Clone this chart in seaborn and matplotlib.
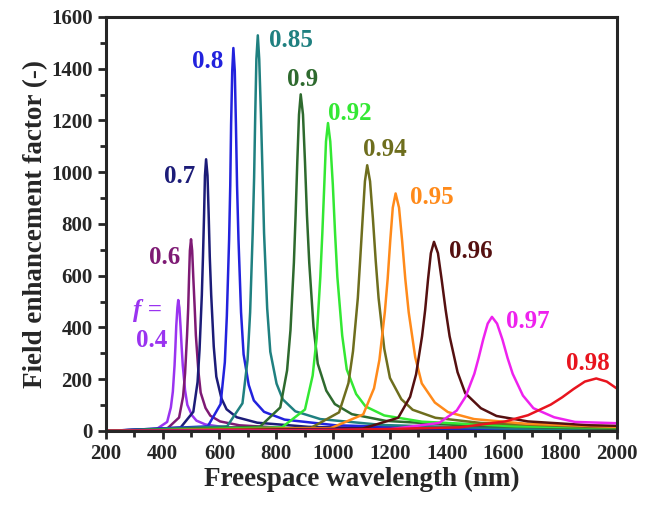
import matplotlib
matplotlib.use("Agg")
import matplotlib.pyplot as plt
import seaborn as sns
from matplotlib.ticker import MultipleLocator

# Curves: wavelength (nm) and field enhancement factor

wl_04 = [200, 377, 416, 429, 436, 442, 445, 448, 452, 455, 459, 463, 467, 471, 479, 487, 503, 519, 551, 615, 775, 1100, 2000]
fe_04 = [0, 6, 35, 91, 152, 253, 324, 405, 476, 506, 476, 405, 324, 253, 157, 101, 61, 40, 25, 15, 8, 4, 2]

wl_06 = [200, 416, 458, 472, 479, 486, 490, 493, 496, 500, 504, 508, 513, 517, 526, 534, 551, 568, 602, 670, 840, 1200, 2000]
fe_06 = [0, 9, 52, 133, 222, 370, 474, 593, 697, 741, 697, 593, 474, 370, 230, 148, 89, 59, 37, 22, 11, 5, 2]

wl_07 = [200, 463, 508, 523, 530, 538, 542, 546, 549, 553, 558, 562, 566, 571, 580, 589, 607, 625, 661, 733, 913, 1300, 2000]
fe_07 = [0, 13, 74, 189, 315, 525, 672, 840, 987, 1050, 987, 840, 672, 525, 326, 210, 126, 84, 53, 32, 16, 7, 3]

wl_08 = [200, 559, 604, 619, 626, 634, 638, 641, 645, 649, 654, 658, 662, 667, 676, 685, 703, 721, 757, 829, 1009, 1400, 2000]
fe_08 = [0, 18, 104, 266, 444, 740, 947, 1184, 1391, 1480, 1391, 1184, 947, 740, 459, 296, 178, 118, 74, 44, 22, 10, 4]

wl_085 = [200, 627, 681, 699, 708, 717, 722, 726, 730, 735, 740, 746, 752, 757, 768, 779, 801, 823, 867, 955, 1175, 1600, 2000]
fe_085 = [0, 18, 107, 275, 459, 765, 979, 1223, 1437, 1529, 1437, 1223, 979, 765, 474, 306, 183, 122, 76, 46, 23, 10, 5]

wl_09 = [200, 742, 814, 838, 850, 862, 868, 874, 880, 886, 894, 901, 908, 916, 931, 946, 976, 1006, 1066, 1186, 1486, 2000]
fe_09 = [0, 16, 91, 234, 390, 651, 833, 1041, 1223, 1301, 1223, 1041, 833, 651, 403, 260, 156, 104, 65, 39, 20, 8]

wl_092 = [200, 820, 901, 928, 942, 955, 962, 969, 975, 982, 990, 999, 1007, 1015, 1032, 1048, 1081, 1114, 1180, 1312, 1642, 2000]
fe_092 = [0, 14, 83, 214, 357, 595, 762, 952, 1119, 1190, 1119, 952, 762, 595, 369, 238, 143, 95, 60, 36, 18, 12]

wl_094 = [200, 922, 1021, 1054, 1070, 1087, 1095, 1104, 1112, 1120, 1130, 1140, 1150, 1160, 1180, 1200, 1240, 1280, 1360, 1520, 1920, 2000]
fe_094 = [0, 12, 72, 185, 308, 514, 657, 822, 965, 1027, 965, 822, 657, 514, 318, 205, 123, 82, 51, 31, 15, 14]

wl_095 = [200, 992, 1106, 1144, 1163, 1182, 1192, 1201, 1210, 1220, 1232, 1243, 1254, 1266, 1289, 1312, 1358, 1404, 1496, 1680, 2000]
fe_095 = [0, 11, 64, 165, 275, 459, 588, 734, 863, 918, 863, 734, 588, 459, 285, 184, 110, 73, 46, 28, 16]

wl_096 = [200, 1103, 1229, 1271, 1292, 1313, 1324, 1334, 1344, 1355, 1369, 1382, 1396, 1410, 1438, 1465, 1520, 1575, 1685, 1905, 2000]
fe_096 = [0, 9, 51, 132, 219, 366, 468, 585, 687, 731, 687, 585, 468, 366, 227, 146, 88, 58, 37, 22, 20]

wl_097 = [200, 1187, 1373, 1435, 1466, 1497, 1512, 1528, 1544, 1559, 1577, 1596, 1614, 1632, 1668, 1705, 1778, 1851, 2000]
fe_097 = [0, 5, 31, 79, 132, 221, 282, 353, 415, 441, 415, 353, 282, 221, 137, 88, 53, 35, 30]

wl_098 = [200, 966, 1446, 1606, 1686, 1766, 1806, 1846, 1886, 1926, 1963, 2000]
fe_098 = [0, 2, 14, 37, 61, 102, 130, 162, 191, 203, 191, 163]

f_labels = ["0.4", "0.6", "0.7", "0.8", "0.85", "0.9", "0.92", "0.94", "0.95", "0.96", "0.97", "0.98"]
colors = ["#9a33f0", "#7e1a74", "#1c1c78", "#2222dd", "#1f8080", "#2e6a2e",
          "#33e833", "#6e6e1e", "#ff8a1a", "#551010", "#ee22ee", "#e8141e"]

# label anchor (wavelength, value)
label_x = [362, 408, 461, 560, 850, 892, 1058, 1181, 1347, 1485, 1686, 1898]
label_y = [351, 672, 985, 1429, 1510, 1359, 1228, 1089, 903, 695, 425, 262]

curves = [(wl_04, fe_04), (wl_06, fe_06), (wl_07, fe_07), (wl_08, fe_08),
          (wl_085, fe_085), (wl_09, fe_09), (wl_092, fe_092), (wl_094, fe_094),
          (wl_095, fe_095), (wl_096, fe_096), (wl_097, fe_097), (wl_098, fe_098)]

sns.set_style("ticks")
plt.rcParams['font.family'] = ['Liberation Serif', 'DejaVu Serif']
plt.rcParams['font.weight'] = 'bold'

fig = plt.figure(figsize=(6.45, 5.08), dpi=100)
ax = fig.add_axes([0.164, 0.1516, 0.793, 0.815])

for (x, y), c in zip(curves, colors):
    sns.lineplot(x=x, y=y, color=c, lw=1.8, ax=ax)

for lab, lx, ly, c in zip(f_labels, label_x, label_y, colors):
    ax.text(lx, ly, lab, color=c, fontsize=18, fontweight='bold', ha='center', va='center')

ax.text(348, 467, "f =", color=colors[0], fontsize=18, fontweight='bold',
        fontstyle='italic', ha='center', va='center')

ax.set_xlim(200, 2000)
ax.set_ylim(0, 1600)
ax.xaxis.set_major_locator(MultipleLocator(200))
ax.xaxis.set_minor_locator(MultipleLocator(100))
ax.yaxis.set_major_locator(MultipleLocator(200))
ax.yaxis.set_minor_locator(MultipleLocator(100))
ax.tick_params(which='major', length=6, width=2, direction='out', labelsize=15)
ax.tick_params(which='minor', length=4, width=2, direction='out')
for s in ax.spines.values():
    s.set_linewidth(2.2)
    s.set_visible(True)

ax.set_xlabel("Freespace wavelength (nm)", fontsize=19.5, fontweight='bold', labelpad=2)
ax.set_ylabel("Field enhancement factor (-)", fontsize=19.5, fontweight='bold', labelpad=2)

fig.savefig("out.png", dpi=100)
